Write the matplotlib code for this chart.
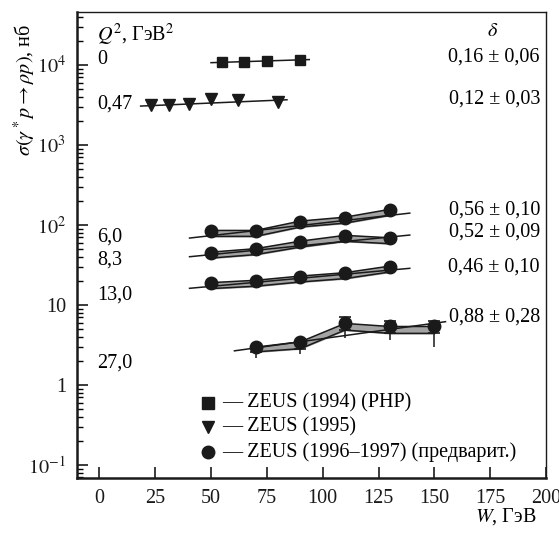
import matplotlib
matplotlib.use("Agg")
import matplotlib.pyplot as plt
from matplotlib.ticker import FixedLocator, FixedFormatter, LogLocator, NullFormatter

plt.rcParams["font.family"] = ["Liberation Serif", "DejaVu Serif"]
plt.rcParams["mathtext.fontset"] = "stix"

# Q^2 = 0 (ZEUS 1994, PHP), squares
w_sq = [55, 65, 75, 90]
s_sq = [10900, 10900, 11300, 11500]
fit_sq_w = [50, 94]
fit_sq_s = [10700, 11700]

# Q^2 = 0.47 (ZEUS 1995), triangles
w_tri = [23, 31, 40, 50, 62, 80]
s_tri = [3160, 3160, 3220, 3750, 3650, 3470]
fit_tri_w = [18.5, 84]
fit_tri_s = [3070, 3680]

# ZEUS 1996-1997, circles
w_c = [50, 70, 90, 110, 130]
s_60 = [84, 84, 110, 123, 154]
s_83 = [45, 49.7, 61.7, 72.9, 68]
s_130 = [18.7, 20, 22.6, 24.9, 30.1]
s_130_lo = [16.6, 18.0, 20.2, 21.0, 27.0]
fit_w = [40.4, 139]
fit_60 = [68.8, 141]
fit_83 = [40.2, 75]
fit_130 = [16.2, 28.8]

w_27 = [70, 90, 110, 130, 150]
s_27 = [2.98, 3.47, 5.9, 5.4, 5.4]
s_27_band = [2.6, 2.85, 4.87, 4.43, 4.43]
s_27_hi = [3.1, 3.6, 7.1, 6.37, 6.37]
s_27_lo = [2.15, 2.48, 3.83, 3.65, 3.0]
fit_27_w = [60.5, 155]
fit_27_s = [2.68, 6.2]

q2_labels = ["0", "0,47", "6,0", "8,3", "13,0", "27,0"]
q2_ypix = [60, 104, 237, 260, 295, 363]
delta_labels = ["0,16 ± 0,06", "0,12 ± 0,03", "0,56 ± 0,10", "0,52 ± 0,09",
                "0,46 ± 0,10", "0,88 ± 0,28"]
delta_ypix = [57, 99, 210, 232, 267, 317]
legend_labels = ["— ZEUS (1994) (PHP)", "— ZEUS (1995)", "— ZEUS (1996–1997) (предварит.)"]

fs = 14.5
fig = plt.figure(figsize=(5.59, 5.33), dpi=100)
L, R, B, T = 77, 546, 478, 12
ax = fig.add_axes([L / 559, 1 - B / 533, (R - L) / 559, (B - T) / 533])


def fx(px):
    return (px - L) / (R - L)


def fy(py):
    return (B - py) / (B - T)


ax.set_yscale("log")
ax.set_xlim(-10, 200)
ax.set_ylim(0.069, 46000)

k = "#1a1a1a"
gray = "#a3a3a3"

# fit lines
for xw, ys in [(fit_sq_w, fit_sq_s), (fit_tri_w, fit_tri_s), (fit_w, fit_60),
               (fit_w, fit_83), (fit_w, fit_130), (fit_27_w, fit_27_s)]:
    ax.plot(xw, ys, color=k, lw=1.1, zorder=2)

# bands
for ys in [s_60, s_83, s_130]:
    lo = [v * 0.86 for v in ys]
    hi = [v * 1.02 for v in ys]
    ax.fill_between(w_c, lo, hi, color=gray, zorder=1)
    ax.plot(w_c, lo, color=k, lw=1.1, zorder=2)
    ax.plot(w_c, hi, color=k, lw=1.1, zorder=2)
ax.fill_between(w_27, s_27_band, s_27, color=gray, zorder=1)
ax.plot(w_27, s_27_band, color=k, lw=1.1, zorder=2)
ax.plot(w_27, s_27, color=k, lw=1.1, zorder=2)

# error bars
ax.vlines(w_c, s_130_lo, s_130, color=k, lw=1.1, zorder=2)
ax.vlines(w_27, s_27_lo, s_27_hi, color=k, lw=1.1, zorder=2)
ax.plot(w_27[2:], s_27_hi[2:], ls="none", marker="_", ms=8, mew=1.2, color=k, zorder=2)
ax.plot(w_27, s_27_band, ls="none", marker="_", ms=8, mew=1.2, color=k, zorder=2)

# markers
ax.plot(w_sq, s_sq, ls="none", marker="s", ms=7.5, color=k, zorder=3)
ax.plot(w_tri, s_tri, ls="none", marker="v", ms=8.5, color=k, zorder=3)
for ys in [s_60, s_83, s_130]:
    ax.plot(w_c, ys, ls="none", marker="o", ms=9, color=k, zorder=3)
ax.plot(w_27, s_27, ls="none", marker="o", ms=9, color=k, zorder=3)

# axes styling
ax.xaxis.set_major_locator(FixedLocator(list(range(0, 201, 25))))
ax.yaxis.set_major_locator(FixedLocator([0.1, 1, 10, 100, 1000, 10000]))
ax.yaxis.set_major_formatter(FixedFormatter([r"$10^{-1}$", "1", "10", r"$10^2$", r"$10^3$", r"$10^4$"]))
ax.yaxis.set_minor_locator(LogLocator(base=10, subs=range(2, 10)))
ax.yaxis.set_minor_formatter(NullFormatter())
ax.tick_params(axis="both", which="major", direction="in", length=8, width=1.2,
               labelsize=fs, colors=k, pad=8)
ax.tick_params(axis="y", which="minor", direction="in", length=4.5, width=1.0)
ax.tick_params(top=False, right=False, which="both")
for s in ["left", "bottom"]:
    ax.spines[s].set_linewidth(1.8)
for s in ["top", "right"]:
    ax.spines[s].set_linewidth(1.0)
for s in ax.spines.values():
    s.set_color(k)

# texts
ax.text(fx(97), fy(35), r"$Q^2$, ГэВ$^2$", fontsize=fs, ha="left", va="center", transform=ax.transAxes)
for lab, py in zip(q2_labels, q2_ypix):
    ax.text(fx(97), fy(py), lab, fontsize=fs, ha="left", va="center", transform=ax.transAxes)
ax.text(fx(493), fy(31), r"$\delta$", fontsize=fs, ha="center", va="center", transform=ax.transAxes)
for lab, py in zip(delta_labels, delta_ypix):
    ax.text(fx(540), fy(py), lab, fontsize=fs, ha="right", va="center", transform=ax.transAxes)

# legend
for mk, ms, lab, py in zip(["s", "v", "o"], [8, 9, 9], legend_labels, [403, 427, 452]):
    ax.plot([fx(208)], [fy(py)], marker=mk, ms=ms, color=k, ls="none", transform=ax.transAxes)
    ax.text(fx(222), fy(py), lab, fontsize=fs, ha="left", va="center", transform=ax.transAxes)

fig.text(25 / 559, 1 - 90 / 533, r"$\sigma(\gamma^* p \rightarrow \rho p)$, нб", fontsize=fs,
         rotation=90, ha="center", va="center")
fig.text(536 / 559, 1 - 517 / 533, r"$W$, ГэВ", fontsize=fs, ha="right", va="center")

fig.savefig("out.png", dpi=100)
